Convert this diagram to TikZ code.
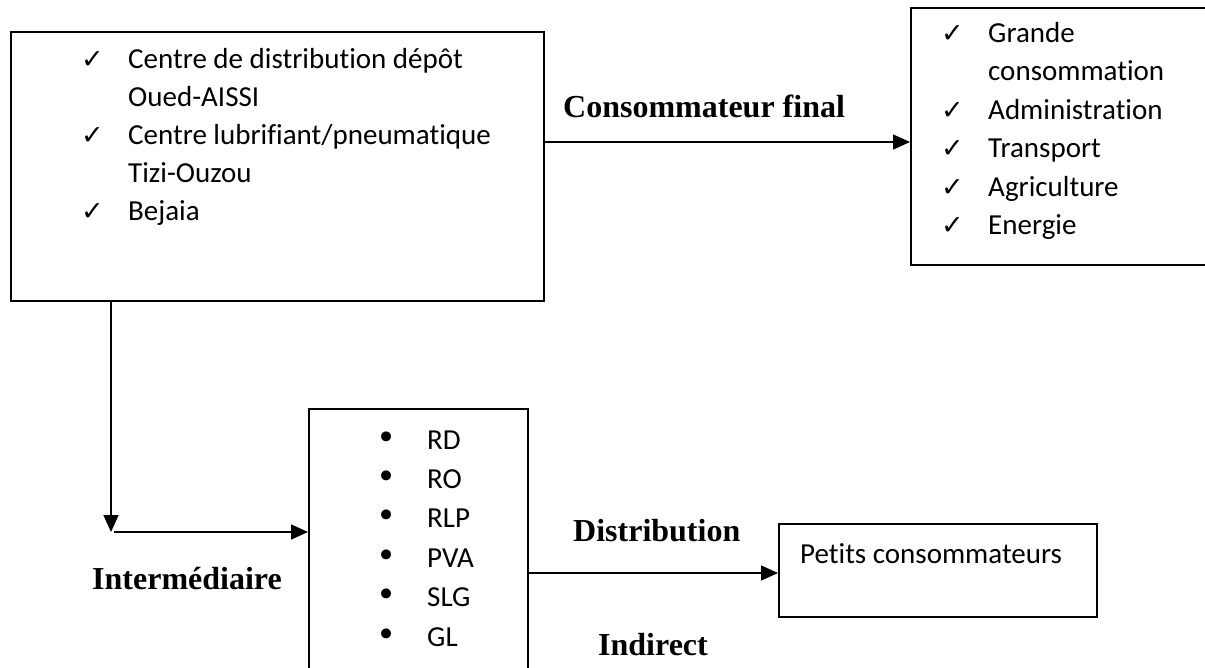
\documentclass[tikz,border=0pt]{standalone}
\usepackage{fontspec}
\setmainfont{Carlito}[Ligatures=NoCommon]
\newfontfamily\tnr{Liberation Serif}
\newfontfamily\symfont{DejaVu Sans}
\usetikzlibrary{arrows.meta}

\tikzset{
  box/.style={draw, line width=1.5pt, inner sep=0pt, anchor=north west},
  item/.style={anchor=base west, inner sep=0pt, font=\fontsize{29}{35}\selectfont},
  tick/.style={anchor=base west, inner sep=0pt, font=\symfont\fontsize{27}{30}\selectfont},
  dot/.style={anchor=base west, inner sep=0pt, font=\symfont\fontsize{34}{40}\selectfont},
  lbl/.style={anchor=base west, inner sep=0pt, font=\tnr\bfseries\fontsize{32}{38}\selectfont},
  arr/.style={line width=1.5pt, -{Triangle[length=17pt,width=15pt]}}
}

\begin{document}
\begin{tikzpicture}[x=1pt,y=-1pt]
\useasboundingbox (0,0) rectangle (1205,667);

% boxes
\node[box, minimum width=533pt, minimum height=269pt] (tl) at (10,31) {};
\node[box, minimum width=310pt, minimum height=257pt] (tr) at (910,7) {};
\node[box, minimum width=219pt, minimum height=275pt] (mid) at (308,408) {};
\node[box, minimum width=318pt, minimum height=93pt] (pc) at (778,523) {};

% depots
\node[tick] (t1) at (81,68) {✓};
\node[item] (a1) at (128,68) {Centre de distribution dépôt};
\node[item] (a2) at (128,106) {Oued-AISSI};
\node[tick] (t2) at (81,144) {✓};
\node[item] (a3) at (128,144) {Centre lubrifiant/pneumatique};
\node[item] (a4) at (128,182) {Tizi-Ouzou};
\node[tick] (t3) at (81,220) {✓};
\node[item] (a5) at (128,220) {Bejaia};

% final consumers
\node[tick] (u1) at (941,42) {✓};
\node[item] (b1) at (988,42) {Grande};
\node[item] (b2) at (988,80.5) {consommation};
\node[tick] (u2) at (941,119) {✓};
\node[item] (b3) at (988,119) {Administration};
\node[tick] (u3) at (941,157.5) {✓};
\node[item] (b4) at (988,157.5) {Transport};
\node[tick] (u4) at (941,196) {✓};
\node[item] (b5) at (988,196) {Agriculture};
\node[tick] (u5) at (941,234.5) {✓};
\node[item] (b6) at (988,234.5) {Energie};

% intermediaries
\node[dot] (d1) at (376,449) {•};
\node[item] (c1) at (427,449) {RD};
\node[dot] (d2) at (376,488) {•};
\node[item] (c2) at (427,488) {RO};
\node[dot] (d3) at (376,527) {•};
\node[item] (c3) at (427,527) {RLP};
\node[dot] (d4) at (376,567) {•};
\node[item] (c4) at (427,567) {PVA};
\node[dot] (d5) at (376,606) {•};
\node[item] (c5) at (427,606) {SLG};
\node[dot] (d6) at (376,646) {•};
\node[item] (c6) at (427,646) {GL};

% small consumers
\node[item] (p1) at (800,563) {Petits consommateurs};

% channel labels
\node[lbl] (l1) at (563,117) {Consommateur final};
\node[lbl] (l2) at (92,589) {Intermédiaire};
\node[lbl] (l3) at (573,541) {Distribution};
\node[lbl] (l4) at (598,655) {Indirect};

% connectors
\coordinate (yc) at (0,142);
\draw[arr] (tl.east |- yc) -- (tr.west |- yc);
\coordinate (turn) at (111,532);
\draw[arr] (tl.south -| turn) -- (turn);
\draw[arr] ([xshift=3pt]turn) -- (mid.west |- turn);
\coordinate (yd) at (0,573);
\draw[arr] (mid.east |- yd) -- (pc.west |- yd);
\end{tikzpicture}
\end{document}
